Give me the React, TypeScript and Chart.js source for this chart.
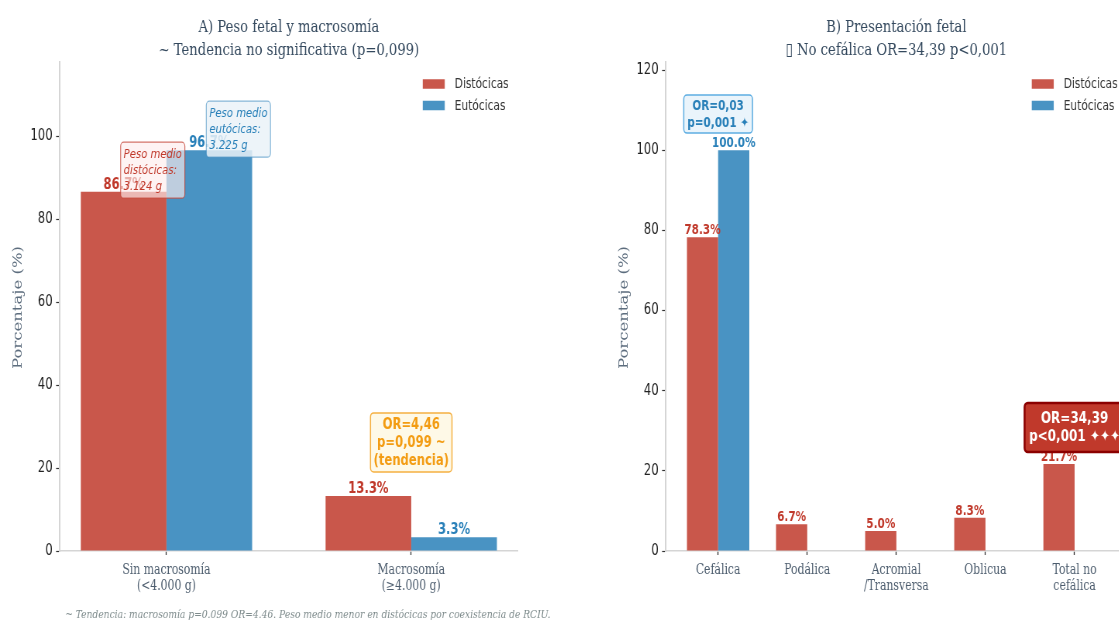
import React, { useEffect, useRef } from 'react';
import { Chart, registerables } from 'chart.js';

Chart.register(...registerables);

// ---------------- data ----------------
const seriesNames = ['Distócicas', 'Eutócicas'];

const categoriesA = [['Sin macrosomía', '(<4.000 g)'], ['Macrosomía', '(≥4.000 g)']];
const distociasA = [86.7, 13.3];
const eutociasA = [96.7, 3.3];
const titleA = ['A) Peso fetal y macrosomía', '~ Tendencia no significativa (p=0,099)'];
const notesA = [
  ['Peso medio', 'distócicas:', '3.124 g'],
  ['Peso medio', 'eutócicas:', '3.225 g'],
  ['OR=4,46', 'p=0,099 ~', '(tendencia)'],
];
const yMaxA = 118;

const categoriesB = [['Cefálica'], ['Podálica'], ['Acromial', '/Transversa'], ['Oblicua'], ['Total no', 'cefálica']];
const distociasB = [78.3, 6.7, 5.0, 8.3, 21.7];
const eutociasB = [100.0, 0, 0, 0, 0];
const titleB = ['B) Presentación fetal', '▯ No cefálica OR=34,39 p<0,001'];
const notesB = [
  ['OR=0,03', 'p=0,001 ✦'],
  ['OR=34,39', 'p<0,001 ✦✦✦'],
];
const yMaxB = 122;

const yTickStep = 20;
const yAxisTitle = 'Porcentaje (%)';
const footnote = '~ Tendencia: macrosomía p=0.099 OR=4.46. Peso medio menor en distócicas por coexistencia de RCIU.';

// ---------------- styles / layout ----------------
const SX = 0.775; // horizontal compression of the reference rendering
const H = 621;
const CSS_W = 560;
const WI = Math.round(CSS_W / SX);

const BAR_COLORS = ['rgba(192,57,43,0.85)', 'rgba(41,128,185,0.85)'];
const TEXT_COLORS = ['#c0392b', '#2980b9'];
const SANS = '"DejaVu Sans", sans-serif';
const SERIF = '"DejaVu Serif", serif';

const noteStylesA = [
  { x: -0.175, y: 91.9, align: 'left', font: `italic 13px ${SANS}`, lh: 16, padX: 3, padY: 4, color: '#c0392b', fill: 'rgba(253,237,236,0.65)', stroke: 'rgba(192,57,43,0.7)', lw: 1.2 },
  { x: 0.175, y: 101.8, align: 'left', font: `italic 13px ${SANS}`, lh: 16, padX: 3, padY: 4, color: '#2980b9', fill: 'rgba(234,242,248,0.85)', stroke: 'rgba(41,128,185,0.55)', lw: 1.2 },
  { x: 1, y: 26.2, align: 'center', font: `bold 15px ${SANS}`, lh: 18, padX: 3, padY: 2.5, color: '#f39c12', fill: '#fef9e7', stroke: '#f5b041', lw: 1.5 },
];
const noteStylesB = [
  { x: 0, y: 109.0, align: 'center', font: `bold 13.5px ${SANS}`, lh: 17, padX: 3.5, padY: 2, color: '#2980b9', fill: '#eaf4fb', stroke: '#5dade2', lw: 1.5 },
  { x: 4, y: 30.8, align: 'center', font: `bold 15.5px ${SANS}`, lh: 18, padX: 4.5, padY: 6.5, color: '#ffffff', fill: '#c0392b', stroke: '#8b0000', lw: 2.5 },
];

const specA = {
  id: 'A', cssLeft: 0, plotLeft: 60, plotRight: 518, xLim: [-0.435, 1.435], yMax: yMaxA,
  cats: categoriesA, dist: distociasA, eut: eutociasA, title: titleA,
  notes: notesA, noteStyles: noteStylesA, valueFont: 15, footnote: true,
};
const specB = {
  id: 'B', cssLeft: 606, plotLeft: 666, plotRight: 1127, xLim: [-0.585, 4.585], yMax: yMaxB,
  cats: categoriesB, dist: distociasB, eut: eutociasB, title: titleB,
  notes: notesB, noteStyles: noteStylesB, valueFont: 13.5, footnote: false,
};

function drawNote(ctx: CanvasRenderingContext2D, lines: string[], st: any, px: number, py: number) {
  ctx.save();
  ctx.font = st.font;
  const tw = Math.max(...lines.map((l) => ctx.measureText(l).width));
  const padX = st.padX / SX;
  const h = lines.length * st.lh + 2 * st.padY;
  const w = tw + 2 * padX;
  const left = st.align === 'left' ? px - padX : px - w / 2;
  const top = py - h / 2;
  ctx.beginPath();
  (ctx as any).roundRect(left, top, w, h, 4);
  ctx.fillStyle = st.fill;
  ctx.fill();
  ctx.lineWidth = st.lw;
  ctx.strokeStyle = st.stroke;
  ctx.stroke();
  ctx.fillStyle = st.color;
  ctx.textBaseline = 'middle';
  ctx.textAlign = st.align;
  lines.forEach((l, i) => ctx.fillText(l, px, top + st.padY + st.lh * (i + 0.5) + 0.5));
  ctx.restore();
}

function decorPlugin(spec: any) {
  return {
    id: 'decor' + spec.id,
    afterDatasetsDraw(chart: any) {
      const { ctx, scales } = chart;
      ctx.save();
      ctx.textAlign = 'center';
      ctx.textBaseline = 'alphabetic';
      ctx.font = `bold ${spec.valueFont}px ${SANS}`;
      chart.data.datasets.forEach((ds: any, di: number) => {
        const meta = chart.getDatasetMeta(di);
        meta.data.forEach((el: any, i: number) => {
          const v = ds.data[i].y;
          if (!v) return;
          ctx.fillStyle = TEXT_COLORS[di];
          ctx.fillText(v.toFixed(1) + '%', el.x, el.y - 3);
        });
      });
      ctx.restore();
      spec.notes.forEach((lines: string[], k: number) => {
        const st = spec.noteStyles[k];
        drawNote(ctx, lines, st, scales.x.getPixelForValue(st.x), scales.y.getPixelForValue(st.y));
      });
    },
    afterDraw(chart: any) {
      const { ctx, chartArea: ca } = chart;
      ctx.save();
      // panel title
      ctx.fillStyle = '#34495e';
      ctx.font = `17px ${SERIF}`;
      ctx.textAlign = 'center';
      ctx.textBaseline = 'alphabetic';
      const cx = (ca.left + ca.right) / 2;
      ctx.fillText(spec.title[0], cx, 31.5);
      ctx.fillText(spec.title[1], cx, 54.5);
      // y axis title
      ctx.save();
      ctx.translate(ca.left - 42 / SX, (ca.top + ca.bottom) / 2 + 1);
      ctx.rotate(-Math.PI / 2);
      ctx.fillStyle = '#5d6d7e';
      ctx.font = `16.5px ${SERIF}`;
      ctx.textBaseline = 'middle';
      ctx.textAlign = 'center';
      ctx.fillText(yAxisTitle, 0, 0);
      ctx.restore();
      // legend
      const lx = ca.right - 95 / SX;
      const rows = [84, 105.5];
      seriesNames.forEach((n, i) => {
        ctx.fillStyle = BAR_COLORS[i];
        ctx.fillRect(lx, rows[i] - 4.75, 22 / SX, 9.5);
        ctx.fillStyle = '#333333';
        ctx.font = `13.7px ${SANS}`;
        ctx.textAlign = 'left';
        ctx.textBaseline = 'middle';
        ctx.fillText(n, lx + 32 / SX, rows[i] + 0.5);
      });
      // footnote
      if (spec.footnote) {
        ctx.fillStyle = '#7f8c8d';
        ctx.font = `italic 11.8px ${SERIF}`;
        ctx.textAlign = 'center';
        ctx.textBaseline = 'alphabetic';
        ctx.fillText(footnote, 308 / SX, 618);
      }
      ctx.restore();
    },
  };
}

function buildChart(canvas: HTMLCanvasElement, spec: any) {
  const yW = (spec.plotLeft - spec.cssLeft) / SX;
  const padRight = WI - (spec.plotRight - spec.cssLeft) / SX;
  const cats = spec.cats;
  return new Chart(canvas, {
    type: 'bar',
    data: {
      datasets: [
        {
          label: seriesNames[0],
          data: spec.dist.map((v: number, i: number) => ({ x: i, y: v })),
          backgroundColor: BAR_COLORS[0],
          borderWidth: 0,
        },
        {
          label: seriesNames[1],
          data: spec.eut.map((v: number, i: number) => ({ x: i, y: v })),
          backgroundColor: BAR_COLORS[1],
          borderWidth: 0,
        },
      ],
    },
    options: {
      responsive: false,
      animation: false,
      devicePixelRatio: 1,
      layout: { padding: { top: 62, right: padRight, bottom: 0, left: 0 } },
      datasets: { bar: { categoryPercentage: 0.7, barPercentage: 1.0 } },
      plugins: { legend: { display: false }, tooltip: { enabled: false }, title: { display: false } },
      scales: {
        x: {
          type: 'linear',
          min: spec.xLim[0],
          max: spec.xLim[1],
          offset: false,
          afterBuildTicks: (s: any) => {
            s.ticks = cats.map((_: any, i: number) => ({ value: i }));
          },
          afterFit: (s: any) => {
            s.height = H - 551;
          },
          ticks: {
            autoSkip: false,
            maxRotation: 0,
            minRotation: 0,
            padding: 7,
            color: '#4d5d6e',
            font: { family: SERIF, size: 14, lineHeight: 16 / 14 },
            callback: (v: any) => cats[v] ?? '',
          },
          grid: { display: true, drawOnChartArea: false, drawTicks: true, tickLength: 4, tickColor: '#333', tickWidth: 1.3, offset: false },
          border: { display: true, color: '#d5d5d5', width: 1.5 },
        },
        y: {
          type: 'linear',
          min: 0,
          max: spec.yMax,
          afterFit: (s: any) => {
            s.width = yW;
          },
          ticks: { stepSize: yTickStep, includeBounds: false, padding: 4.5, color: '#222', font: { family: SANS, size: 15 } },
          grid: { drawOnChartArea: false, drawTicks: true, tickLength: 5, tickColor: '#333', tickWidth: 1.2 },
          border: { display: true, color: '#d5d5d5', width: 2 },
        },
      },
    },
    plugins: [decorPlugin(spec)],
  } as any);
}

export default function App() {
  const refA = useRef<HTMLCanvasElement>(null);
  const refB = useRef<HTMLCanvasElement>(null);
  useEffect(() => {
    const a = buildChart(refA.current as HTMLCanvasElement, specA);
    const b = buildChart(refB.current as HTMLCanvasElement, specB);
    return () => {
      a.destroy();
      b.destroy();
    };
  }, []);
  return (
    <div style={{ position: 'fixed', left: 0, top: 0, width: 1119, height: H, overflow: 'hidden', background: '#ffffff' }}>
      <canvas ref={refA} width={WI} height={H} style={{ position: 'absolute', left: specA.cssLeft, top: 0, width: CSS_W, height: H }} />
      <canvas ref={refB} width={WI} height={H} style={{ position: 'absolute', left: specB.cssLeft, top: 0, width: CSS_W, height: H }} />
    </div>
  );
}
